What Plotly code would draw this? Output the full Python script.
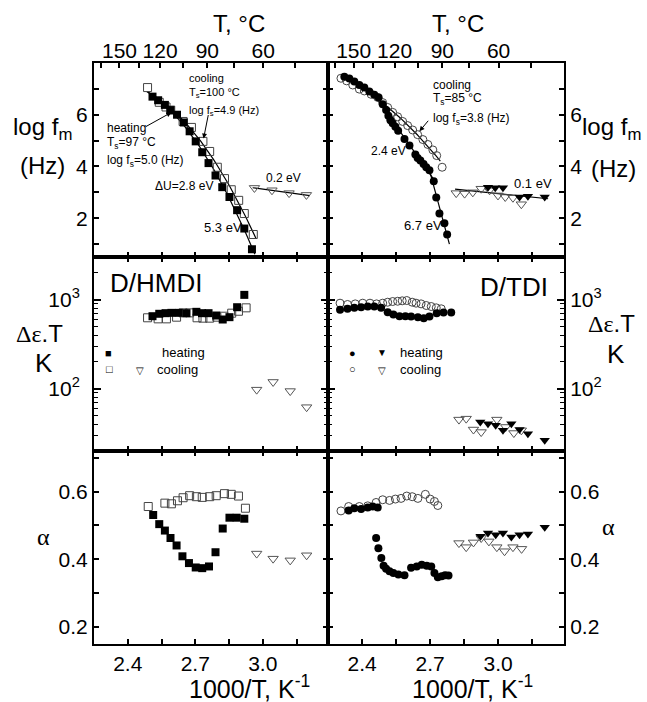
import numpy as np
import plotly.graph_objects as go

# ---------------- measured data (x = 1000/T, K^-1) ----------------
# D/HMDI : log f_m (Hz)
hmdi_f_heat_x = [2.510, 2.535, 2.565, 2.590, 2.619, 2.649, 2.675, 2.702, 2.731, 2.759,
                 2.790, 2.820, 2.852, 2.886, 2.918, 2.952]
hmdi_f_heat_y = [6.70, 6.56, 6.38, 6.18, 6.00, 5.70, 5.36, 4.97, 4.55, 4.13,
                 3.65, 3.20, 2.82, 2.31, 1.60, 0.80]
hmdi_f_cool_x = [2.488, 2.540, 2.570, 2.591, 2.646, 2.683, 2.734, 2.764, 2.798, 2.830,
                 2.860, 2.893, 2.918, 2.958]
hmdi_f_cool_y = [7.05, 6.48, 6.30, 6.18, 5.74, 5.51, 4.97, 4.58, 3.97, 3.53,
                 3.10, 2.69, 2.18, 1.37]
hmdi_f_beta_cool_x = [2.963, 3.041, 3.117, 3.194]
hmdi_f_beta_cool_y = [3.17, 3.08, 2.97, 2.90]

# D/TDI : log f_m (Hz)
tdi_f_heat_x = [2.322, 2.344, 2.366, 2.388, 2.410, 2.432, 2.454, 2.473, 2.491, 2.506,
                2.516, 2.525, 2.535, 2.547, 2.559, 2.587, 2.609, 2.635, 2.645, 2.657,
                2.671, 2.683, 2.697, 2.716, 2.727, 2.741, 2.763, 2.775]
tdi_f_heat_y = [7.47, 7.40, 7.28, 7.15, 7.05, 6.90, 6.77, 6.67, 6.41, 6.18,
                5.96, 5.79, 5.67, 5.54, 5.38, 5.06, 4.81, 4.46, 4.33, 4.23,
                4.10, 3.97, 3.85, 3.43, 2.80, 2.18, 1.80, 1.37]
tdi_f_cool_x = [2.307, 2.332, 2.359, 2.388, 2.410, 2.440, 2.469, 2.491, 2.513, 2.535,
                2.557, 2.579, 2.601, 2.623, 2.645, 2.668, 2.690, 2.712, 2.729, 2.753]
tdi_f_cool_y = [7.41, 7.31, 7.15, 6.99, 6.92, 6.79, 6.67, 6.47, 6.28, 6.09,
                5.92, 5.74, 5.58, 5.41, 5.23, 5.04, 4.85, 4.64, 4.42, 3.97]
tdi_f_beta_heat_x = [2.955, 2.987, 3.021, 3.094, 3.131, 3.205]
tdi_f_beta_heat_y = [3.20, 3.18, 3.18, 2.82, 2.85, 2.82]
tdi_f_beta_cool_x = [2.815, 2.852, 2.888, 2.925, 2.962, 2.999, 3.031, 3.065, 3.102]
tdi_f_beta_cool_y = [2.97, 2.95, 3.00, 3.14, 3.08, 2.88, 2.82, 2.79, 2.54]

# D/HMDI : relaxation strength x T (K)
hmdi_d_heat_x = [2.510, 2.540, 2.568, 2.594, 2.627, 2.661, 2.705, 2.730, 2.759, 2.793,
                 2.822, 2.852, 2.886, 2.918]
hmdi_d_heat_y = [650, 692, 703, 709, 709, 703, 728, 703, 703, 662, 597, 634, 820, 1128]
hmdi_d_cool_x = [2.488, 2.535, 2.572, 2.617, 2.646, 2.675, 2.708, 2.734, 2.764, 2.796,
                 2.827, 2.862, 2.892, 2.926]
hmdi_d_cool_y = [624, 607, 607, 634, 709, 709, 624, 618, 618, 634, 650, 703, 739, 807]
hmdi_d_beta_cool_x = [2.973, 3.046, 3.122, 3.195]
hmdi_d_beta_cool_y = [97.5, 119, 94, 62]

# D/TDI : relaxation strength x T (K)
tdi_d_heat_x = [2.303, 2.336, 2.366, 2.396, 2.425, 2.454, 2.484, 2.513, 2.538, 2.565,
                2.591, 2.616, 2.646, 2.672, 2.697, 2.729, 2.759, 2.793]
tdi_d_heat_y = [767, 787, 807, 820, 835, 835, 807, 722, 679, 650,
                650, 645, 634, 618, 645, 703, 714, 714]
tdi_d_cool_x = [2.303, 2.336, 2.370, 2.403, 2.435, 2.464, 2.491, 2.513, 2.535, 2.557,
                2.577, 2.597, 2.621, 2.638, 2.660, 2.683, 2.705, 2.727, 2.749]
tdi_d_cool_y = [910, 880, 894, 910, 910, 894, 910, 933, 950, 957,
                967, 975, 933, 910, 894, 857, 835, 807, 787]
tdi_d_beta_heat_x = [2.921, 2.955, 2.989, 3.021, 3.058, 3.094, 3.131, 3.205]
tdi_d_beta_heat_y = [42.3, 40.5, 38.8, 34.1, 40.5, 34.8, 31.3, 26.4]
tdi_d_beta_cool_x = [2.827, 2.859, 2.891, 2.925, 2.994, 3.033, 3.069, 3.102]
tdi_d_beta_cool_y = [45.0, 46.1, 34.8, 32.6, 45.0, 37.2, 31.8, 34.1]

# D/HMDI : shape parameter alpha
hmdi_a_heat_x = [2.513, 2.540, 2.565, 2.590, 2.617, 2.643, 2.672, 2.702, 2.731, 2.761,
                 2.790, 2.822, 2.852, 2.884, 2.918]
hmdi_a_heat_y = [0.531, 0.504, 0.485, 0.463, 0.441, 0.409, 0.389, 0.376, 0.374, 0.379,
                 0.421, 0.491, 0.523, 0.523, 0.520]
hmdi_a_cool_x = [2.491, 2.565, 2.594, 2.621, 2.646, 2.675, 2.705, 2.731, 2.764, 2.793,
                 2.830, 2.860, 2.892, 2.923]
hmdi_a_cool_y = [0.556, 0.566, 0.564, 0.573, 0.582, 0.588, 0.585, 0.583, 0.585, 0.588,
                 0.594, 0.592, 0.587, 0.551]
hmdi_a_beta_cool_x = [2.973, 3.046, 3.122, 3.195]
hmdi_a_beta_cool_y = [0.417, 0.402, 0.397, 0.412]

# D/TDI : shape parameter alpha
tdi_a_heat_x = [2.341, 2.366, 2.396, 2.425, 2.447, 2.469,
                2.462, 2.472, 2.485, 2.495, 2.506, 2.521, 2.538, 2.560, 2.587, 2.616,
                2.641, 2.663, 2.685, 2.705, 2.719, 2.734, 2.751, 2.766, 2.781]
tdi_a_heat_y = [0.544, 0.551, 0.549, 0.553, 0.556, 0.553,
                0.463, 0.433, 0.404, 0.381, 0.372, 0.365, 0.360, 0.355, 0.353, 0.375,
                0.379, 0.384, 0.381, 0.379, 0.360, 0.347, 0.350, 0.353, 0.352]
tdi_a_cool_x = [2.307, 2.341, 2.388, 2.425, 2.462, 2.491, 2.521, 2.547, 2.572, 2.597,
                2.621, 2.646, 2.679, 2.700, 2.719, 2.734]
tdi_a_cool_y = [0.543, 0.556, 0.556, 0.558, 0.568, 0.576, 0.574, 0.578, 0.580, 0.587,
                0.585, 0.580, 0.592, 0.578, 0.571, 0.559]
tdi_a_beta_heat_x = [2.922, 2.955, 2.989, 3.021, 3.058, 3.094, 3.131, 3.205]
tdi_a_beta_heat_y = [0.468, 0.478, 0.473, 0.478, 0.466, 0.473, 0.475, 0.495]
tdi_a_beta_cool_x = [2.827, 2.859, 2.891, 2.925, 2.959, 2.994, 3.028, 3.065, 3.103]
tdi_a_beta_cool_y = [0.448, 0.436, 0.450, 0.463, 0.453, 0.436, 0.424, 0.436, 0.431]

# temperature scale on top (deg C)
temp_ticks_C = [165, 150, 135, 120, 105, 90, 75, 60, 45]
temp_labels_C = [150, 120, 90, 60]

# axis ticks
logf_ticks = [2, 4, 6]
alpha_ticks = [0.2, 0.4, 0.6]
deps_ticks = [100, 1000]
deps_tick_labels = ["10<sup>2</sup>", "10<sup>3</sup>"]
deps_minor = [20, 30, 40, 50, 60, 70, 80, 90, 200, 300, 400, 500, 600, 700, 800, 900, 2000, 3000]

X_RANGE = [2.25, 3.29]
FONT = "Liberation Sans, Arial, sans-serif"
SERIF = "Liberation Serif"


def poly_fit_curve(xs, ys, deg, x0, x1, n=60):
    """Least-squares polynomial through the points, evaluated on [x0, x1]."""
    c = np.polyfit(xs, ys, deg)
    xx = np.linspace(x0, x1, n)
    return xx, np.polyval(c, xx)


fig = go.Figure()

FILL_SQ = dict(symbol="square", size=8, color="black")
OPEN_SQ = dict(symbol="square-open", size=8, color="#444", line=dict(width=1))
FILL_CI = dict(symbol="circle", size=8, color="black")
OPEN_CI = dict(symbol="circle-open", size=8, color="#444", line=dict(width=1))
FILL_TR = dict(symbol="triangle-down", size=9, color="black")
OPEN_TR = dict(symbol="triangle-down-open", size=9, color="#555", line=dict(width=1))
FIT = dict(color="black", width=1.2)


def pts(x, y, marker, xa, ya):
    fig.add_trace(go.Scatter(x=x, y=y, mode="markers", marker=marker,
                             xaxis=xa, yaxis=ya, showlegend=False, hoverinfo="skip"))


def line(x, y, xa, ya):
    fig.add_trace(go.Scatter(x=x, y=y, mode="lines", line=FIT,
                             xaxis=xa, yaxis=ya, showlegend=False, hoverinfo="skip"))


# ---- row 1: log f_m (the beta-process data sit on the temperature axes x7/x8,
#      which share the 1000/T range of x/x2) ----
line(*poly_fit_curve(hmdi_f_heat_x, hmdi_f_heat_y, 2, 2.49, 2.965), "x", "y")
line(*poly_fit_curve(hmdi_f_cool_x, hmdi_f_cool_y, 2, 2.485, 2.97), "x", "y")
pts(hmdi_f_cool_x, hmdi_f_cool_y, OPEN_SQ, "x", "y")
pts(hmdi_f_heat_x, hmdi_f_heat_y, FILL_SQ, "x", "y")
line(*poly_fit_curve(hmdi_f_beta_cool_x, hmdi_f_beta_cool_y, 1, 2.955, 3.21), "x7", "y")
pts(hmdi_f_beta_cool_x, hmdi_f_beta_cool_y, OPEN_TR, "x7", "y")

seg1 = [(x, y) for x, y in zip(tdi_f_heat_x, tdi_f_heat_y) if 2.47 <= x <= 2.70]
seg2 = [(x, y) for x, y in zip(tdi_f_heat_x, tdi_f_heat_y) if x >= 2.70]
line(*poly_fit_curve([p[0] for p in seg1], [p[1] for p in seg1], 1, 2.45, 2.712), "x2", "y2")
line(*poly_fit_curve([p[0] for p in seg2], [p[1] for p in seg2], 1, 2.70, 2.785), "x2", "y2")
cool_sel = [(x, y) for x, y in zip(tdi_f_cool_x, tdi_f_cool_y) if x >= 2.43]
line(*poly_fit_curve([p[0] for p in cool_sel], [p[1] for p in cool_sel], 2, 2.43, 2.745), "x2", "y2")
pts(tdi_f_cool_x, tdi_f_cool_y, OPEN_CI, "x2", "y2")
pts(tdi_f_heat_x, tdi_f_heat_y, FILL_CI, "x2", "y2")
line(*poly_fit_curve(tdi_f_beta_heat_x + tdi_f_beta_cool_x,
                     tdi_f_beta_heat_y + tdi_f_beta_cool_y, 1, 2.81, 3.22), "x8", "y2")
pts(tdi_f_beta_cool_x, tdi_f_beta_cool_y, OPEN_TR, "x8", "y2")
pts(tdi_f_beta_heat_x, tdi_f_beta_heat_y, FILL_TR, "x8", "y2")

# ---- row 2: relaxation strength ----
pts(hmdi_d_cool_x, hmdi_d_cool_y, OPEN_SQ, "x3", "y3")
pts(hmdi_d_heat_x, hmdi_d_heat_y, FILL_SQ, "x3", "y3")
pts(hmdi_d_beta_cool_x, hmdi_d_beta_cool_y, OPEN_TR, "x3", "y3")
pts(tdi_d_cool_x, tdi_d_cool_y, OPEN_CI, "x4", "y4")
pts(tdi_d_heat_x, tdi_d_heat_y, FILL_CI, "x4", "y4")
pts(tdi_d_beta_cool_x, tdi_d_beta_cool_y, OPEN_TR, "x4", "y4")
pts(tdi_d_beta_heat_x, tdi_d_beta_heat_y, FILL_TR, "x4", "y4")

# ---- row 3: alpha ----
pts(hmdi_a_cool_x, hmdi_a_cool_y, OPEN_SQ, "x5", "y5")
pts(hmdi_a_heat_x, hmdi_a_heat_y, FILL_SQ, "x5", "y5")
pts(hmdi_a_beta_cool_x, hmdi_a_beta_cool_y, OPEN_TR, "x5", "y5")
pts(tdi_a_cool_x, tdi_a_cool_y, OPEN_CI, "x6", "y6")
pts(tdi_a_heat_x, tdi_a_heat_y, FILL_CI, "x6", "y6")
pts(tdi_a_beta_cool_x, tdi_a_beta_cool_y, OPEN_TR, "x6", "y6")
pts(tdi_a_beta_heat_x, tdi_a_beta_heat_y, FILL_TR, "x6", "y6")

# ---------------- axes ----------------
TICKFONT = dict(size=21, family=FONT, color="black")
AX = dict(showline=True, linecolor="black", linewidth=2, ticks="inside", ticklen=5,
          tickwidth=1.5, tickcolor="black", showgrid=False, zeroline=False,
          tickfont=TICKFONT)


def minor(**kw):
    return dict(ticks="inside", ticklen=5, tickwidth=1.5, tickcolor="black",
                showgrid=False, **kw)


XL, XR = [0.0, 0.4979], [0.4979, 1.0]
YT, YM, YB = [0.6661, 1.0], [0.3322, 0.6661], [0.0, 0.3322]


def xaxis(domain, anchor, labels, mirror="allticks"):
    return dict(AX, domain=domain, anchor=anchor, range=X_RANGE, tickmode="linear",
                tick0=2.4, dtick=0.3, tickformat=".1f", showticklabels=labels,
                mirror=mirror, minor=minor(tick0=2.4, dtick=0.15))


t_major = [1000.0 / (t + 273.15) for t in temp_labels_C]
t_minor = [1000.0 / (t + 273.15) for t in temp_ticks_C]


def taxis(over, anchor):
    return dict(AX, overlaying=over, anchor=anchor, side="top", range=X_RANGE,
                tickmode="array", tickvals=t_major, ticktext=[str(t) for t in temp_labels_C],
                showline=False, tickfont=dict(size=21, family=FONT, color="black"),
                minor=minor(tickmode="array", tickvals=t_minor))


def yaxis_logf(domain, anchor, side):
    return dict(AX, domain=domain, anchor=anchor, side=side, range=[0.5, 8],
                tickmode="array", tickvals=logf_ticks, mirror="allticks",
                minor=minor(tick0=1, dtick=1))


def yaxis_deps(domain, anchor, side, standoff=None):
    ax = dict(AX, domain=domain, anchor=anchor, side=side, type="log",
              range=[np.log10(20), np.log10(3000)], tickmode="array",
              tickvals=deps_ticks, ticktext=deps_tick_labels, ticklen=7,
              mirror="allticks",
              minor=dict(ticks="inside", ticklen=4, tickwidth=1, tickcolor="black",
                         tickmode="array", tickvals=deps_minor, showgrid=False))
    if standoff is not None:
        ax["ticklabelstandoff"] = standoff
    return ax


def yaxis_alpha(domain, anchor, side):
    return dict(AX, domain=domain, anchor=anchor, side=side, range=[0.15, 0.72],
                tickmode="array", tickvals=alpha_ticks, tickformat=".1f",
                mirror="allticks", minor=minor(tick0=0.2, dtick=0.1))


fig.update_layout(
    xaxis=xaxis(XL, "y", False, mirror=True),
    xaxis2=xaxis(XR, "y2", False, mirror=True),
    xaxis3=xaxis(XL, "y3", False),
    xaxis4=xaxis(XR, "y4", False),
    xaxis5=xaxis(XL, "y5", True),
    xaxis6=xaxis(XR, "y6", True),
    xaxis7=taxis("x", "y"),
    xaxis8=taxis("x2", "y2"),
    yaxis=yaxis_logf(YT, "x", "left"),
    yaxis2=yaxis_logf(YT, "x2", "right"),
    yaxis3=yaxis_deps(YM, "x3", "left", standoff=8),
    yaxis4=yaxis_deps(YM, "x4", "right"),
    yaxis5=yaxis_alpha(YB, "x5", "left"),
    yaxis6=yaxis_alpha(YB, "x6", "right"),
)

# ---------------- text ----------------
ann = []


def text(s, x, y, size, xref="paper", yref="paper", xanchor="center", family=FONT):
    ann.append(dict(text=s, x=x, y=y, xref=xref, yref=yref, xanchor=xanchor,
                    yanchor="middle", showarrow=False,
                    font=dict(size=size, family=family, color="black")))


def arrow(x, y, ax, ay, xref, yref):
    ann.append(dict(text="", x=x, y=y, ax=ax, ay=ay, xref=xref, yref=yref,
                    showarrow=True, arrowhead=2, arrowsize=1, arrowwidth=1,
                    arrowcolor="black"))


# axis titles
text("log f<sub>m</sub>", -0.1106, 0.888, 24)
text("(Hz)", -0.1106, 0.823, 24)
text("log f<sub>m</sub>", 1.100, 0.888, 24)
text("(Hz)", 1.106, 0.819, 24)
DEPS = "<span style='font-family:Liberation Serif'>\u0394\u03b5</span>.T"
text(DEPS, -0.1149, 0.535, 24)
text("K", -0.1064, 0.484, 26)
text(DEPS, 1.1021, 0.551, 24)
text("K", 1.1106, 0.500, 26)
text("\u03b1", -0.1085, 0.184, 24, family=SERIF)
text("\u03b1", 1.0957, 0.201, 24, family=SERIF)
text("1000/T, K<sup>-1</sup>", 0.3319, -0.074, 25)
text("1000/T, K<sup>-1</sup>", 0.8043, -0.074, 25)
text("T, \u00b0C", 0.3085, 1.0688, 24)
text("T, \u00b0C", 0.7745, 1.0688, 24)

# sample names
text("D/HMDI", 0.1319, 0.6213, 26)
text("D/TDI", 0.8926, 0.6145, 26)

# legend keys
text("\u25a0", 0.0298, 0.5009, 11)
text("heating", 0.1404, 0.5009, 13, xanchor="left")
text("\u25a1", 0.0340, 0.4733, 11)
text("\u25bd", 0.0979, 0.4716, 10)
text("cooling", 0.1298, 0.4733, 13, xanchor="left")
text("\u25cf", 0.5504, 0.5009, 11)
text("\u25bc", 0.6121, 0.5009, 10)
text("heating", 0.6462, 0.5009, 13, xanchor="left")
text("\u25cb", 0.5504, 0.4733, 11)
text("\u25bd", 0.6121, 0.4716, 10)
text("cooling", 0.6462, 0.4733, 13, xanchor="left")

# annotations of the HMDI relaxation map
text("cooling", 2.662, 7.42, 11, "x", "y", "left")
text("T<sub>s</sub>=100 \u00b0C", 2.662, 6.85, 11, "x", "y", "left")
text("log f<sub>s</sub>=4.9 (Hz)", 2.662, 6.15, 11, "x", "y", "left")
text("heating", 2.300, 5.50, 12, "x", "y", "left")
text("T<sub>s</sub>=97 \u00b0C", 2.300, 4.92, 12, "x", "y", "left")
text("log f<sub>s</sub>=5.0 (Hz)", 2.300, 4.23, 12, "x", "y", "left")
text("\u0394U=2.8 eV", 2.512, 3.23, 12, "x", "y", "left")
text("5.3 eV", 2.728, 1.65, 13, "x", "y", "left")
text("0.2 eV", 3.007, 3.54, 12, "x", "y", "left")
arrow(2.594, 6.09, -27, 15, "x", "y")
arrow(2.737, 5.08, 5, -25, "x", "y")

# annotations of the TDI relaxation map
text("cooling", 2.706, 7.15, 12, "x2", "y2", "left")
text("T<sub>s</sub>=85 \u00b0C", 2.706, 6.62, 12, "x2", "y2", "left")
text("log f<sub>s</sub>=3.8 (Hz)", 2.706, 5.85, 12, "x2", "y2", "left")
text("2.4 eV", 2.432, 4.58, 12, "x2", "y2", "left")
text("6.7 eV", 2.578, 1.73, 13, "x2", "y2", "left")
text("0.1 eV", 3.059, 3.35, 13, "x2", "y2", "left")
arrow(2.653, 5.36, 10, -12, "x2", "y2")

fig.update_layout(
    annotations=ann,
    width=647, height=702, autosize=False,
    margin=dict(l=94, r=83, t=63, b=58),
    paper_bgcolor="white", plot_bgcolor="white",
    font=dict(family=FONT, color="black"),
    showlegend=False,
)

fig.write_html("out.html")
